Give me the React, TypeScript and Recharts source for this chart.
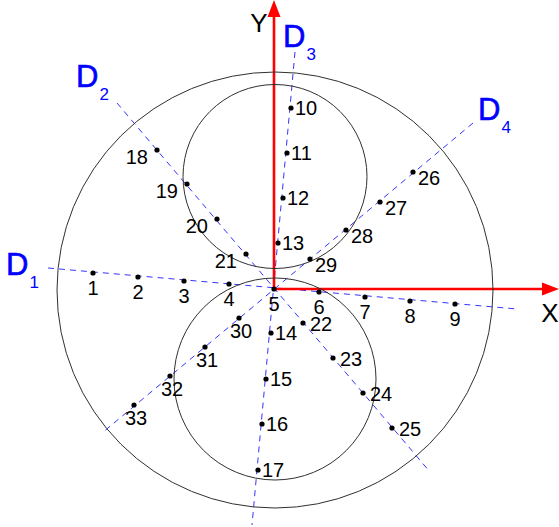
import React from 'react'
import { ScatterChart, Scatter, XAxis, YAxis, ReferenceLine, ReferenceDot } from 'recharts'

// point coordinates, origin at point 5, y up
const d1Points = [
  { id: '1', x: -181, y: 16 },
  { id: '2', x: -136, y: 12 },
  { id: '3', x: -90, y: 8 },
  { id: '4', x: -45, y: 5 },
  { id: '5', x: 0, y: 0 },
  { id: '6', x: 45, y: -3 },
  { id: '7', x: 91, y: -8 },
  { id: '8', x: 136, y: -12 },
  { id: '9', x: 181, y: -15 },
]
const d3Points = [
  { id: '10', x: 17, y: 181 },
  { id: '11', x: 13, y: 136 },
  { id: '12', x: 9, y: 91 },
  { id: '13', x: 4, y: 46 },
  { id: '14', x: -3, y: -44 },
  { id: '15', x: -8, y: -90 },
  { id: '16', x: -12, y: -135 },
  { id: '17', x: -16, y: -181 },
]
const d2Upper = [
  { id: '18', x: -117, y: 139 },
  { id: '19', x: -87, y: 105 },
  { id: '20', x: -57, y: 70 },
  { id: '21', x: -28, y: 35 },
]
const d2Lower = [
  { id: '22', x: 29, y: -34 },
  { id: '23', x: 59, y: -69 },
  { id: '24', x: 89, y: -104 },
  { id: '25', x: 118, y: -139 },
]
const d4Upper = [
  { id: '26', x: 139, y: 117 },
  { id: '27', x: 106, y: 87 },
  { id: '28', x: 72, y: 59 },
  { id: '29', x: 36, y: 30 },
]
const d4Lower = [
  { id: '30', x: -35, y: -29 },
  { id: '31', x: -69, y: -58 },
  { id: '32', x: -104, y: -87 },
  { id: '33', x: -140, y: -116 },
]

// dashed directions D1..D4 (end points)
const directions = [
  { name: 'D1', from: { x: -226, y: 21 }, to: { x: 243, y: -20 } },
  { name: 'D2', from: { x: -157, y: 186 }, to: { x: 156, y: -183 } },
  { name: 'D3', from: { x: 21, y: 237 }, to: { x: -22, y: -236 } },
  { name: 'D4', from: { x: 199, y: 166 }, to: { x: -172, y: -144 } },
]

const circles = [
  { name: 'outer', x: 1, y: -1, r: 218 },
  { name: 'upper', x: 1, y: 112.5, r: 92 },
  { name: 'lower', x: 1, y: -90, r: 101 },
]

const dirLabels = [
  { text: 'D', sub: '1', x: -268, y: 14 },
  { text: 'D', sub: '2', x: -198, y: 202 },
  { text: 'D', sub: '3', x: 9, y: 242 },
  { text: 'D', sub: '4', x: 204, y: 169 },
]

const axisLabels = [
  { text: 'X', x: 276, y: -33 },
  { text: 'Y', x: -15, y: 257 },
]

const W = 559
const H = 527
const X_DOMAIN = [-274, 285]
const Y_DOMAIN = [-238, 289]
const FONT = 'Liberation Sans, Arial, sans-serif'
const BLUE = '#3434ff'

function pointShape(dx: number, dy: number, anchor: string) {
  return (props: any) => {
    const { cx, cy, payload } = props
    return (
      <g>
        <circle cx={cx} cy={cy} r={2.6} fill="#000" />
        <text x={cx + dx} y={cy + dy} textAnchor={anchor} fontSize={20} fontFamily={FONT} fill="#000">
          {payload.id}
        </text>
      </g>
    )
  }
}

function DirLabel(props: any) {
  const { cx, cy, payload } = props
  return (
    <text x={cx} y={cy} fontFamily={FONT} fill="#0000ff" fontSize={31} stroke="#0000ff" strokeWidth={0.6}>
      {payload.text}
      <tspan dx={1} dy={13} fontSize={17} strokeWidth={0}>
        {payload.sub}
      </tspan>
    </text>
  )
}

function AxisLabel(props: any) {
  const { cx, cy, payload } = props
  return (
    <text x={cx} y={cy} textAnchor="middle" fontFamily={FONT} fill="#000" fontSize={26}>
      {payload.text}
    </text>
  )
}

function Arrow(props: any) {
  const { x1, y1, x2, y2 } = props
  const len = Math.hypot(x2 - x1, y2 - y1)
  const ux = (x2 - x1) / len
  const uy = (y2 - y1) / len
  const head = 17
  const half = 6.5
  const bx = x2 - ux * head
  const by = y2 - uy * head
  return (
    <g>
      <line x1={x1} y1={y1} x2={bx} y2={by} stroke="#ff0000" strokeWidth={2.6} />
      <polygon
        points={`${x2},${y2} ${bx - uy * half},${by + ux * half} ${bx + uy * half},${by - ux * half}`}
        fill="#ff0000"
      />
    </g>
  )
}

export default function App() {
  return (
    <div style={{ position: 'absolute', left: 0, top: 0, width: W, height: H, background: '#fff' }}>
      <ScatterChart width={W} height={H} margin={{ top: 0, right: 0, bottom: 0, left: 0 }}>
        <XAxis type="number" dataKey="x" domain={X_DOMAIN} allowDataOverflow hide />
        <YAxis type="number" dataKey="y" domain={Y_DOMAIN} allowDataOverflow hide />
        {circles.map((c) => (
          <ReferenceDot
            key={c.name}
            x={c.x}
            y={c.y}
            r={c.r}
            fill="none"
            stroke="#303030"
            strokeWidth={1}
            ifOverflow="visible"
          />
        ))}
        {directions.map((d) => (
          <ReferenceLine
            key={d.name}
            segment={[d.from, d.to]}
            stroke={BLUE}
            strokeWidth={1}
            strokeDasharray="6 5"
            ifOverflow="visible"
          />
        ))}
        <ReferenceLine segment={[{ x: 0, y: 0 }, { x: X_DOMAIN[1], y: 0 }]} shape={Arrow} ifOverflow="visible" />
        <ReferenceLine segment={[{ x: 0, y: 0 }, { x: 0, y: Y_DOMAIN[1] }]} shape={Arrow} ifOverflow="visible" />
        <Scatter data={d1Points} shape={pointShape(0, 22, 'middle')} isAnimationActive={false} />
        <Scatter data={d3Points} shape={pointShape(4, 7, 'start')} isAnimationActive={false} />
        <Scatter data={d2Upper} shape={pointShape(-9, 14, 'end')} isAnimationActive={false} />
        <Scatter data={d2Lower} shape={pointShape(7, 8, 'start')} isAnimationActive={false} />
        <Scatter data={d4Upper} shape={pointShape(5, 13, 'start')} isAnimationActive={false} />
        <Scatter data={d4Lower} shape={pointShape(2, 20, 'middle')} isAnimationActive={false} />
        <Scatter data={dirLabels} shape={DirLabel} isAnimationActive={false} />
        <Scatter data={axisLabels} shape={AxisLabel} isAnimationActive={false} />
      </ScatterChart>
    </div>
  )
}
